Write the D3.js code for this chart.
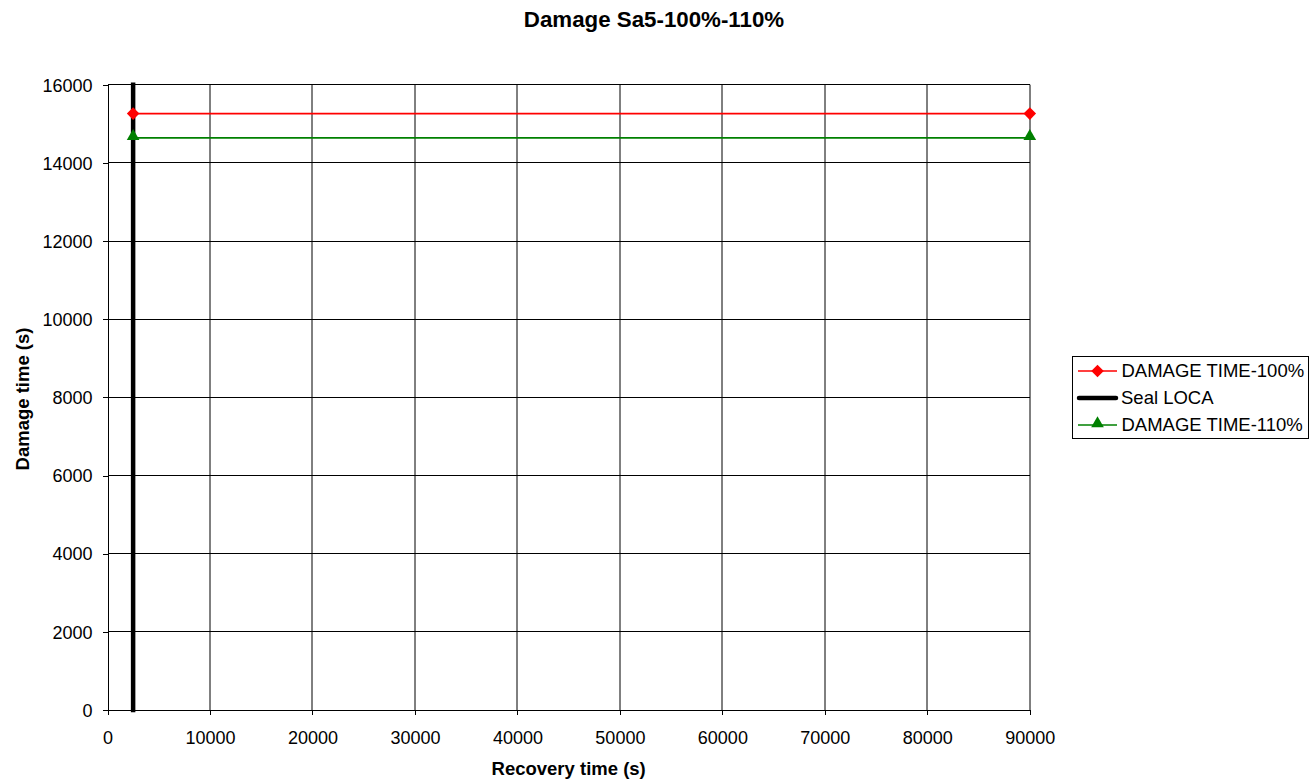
<!DOCTYPE html>
<html>
<head>
<meta charset="utf-8">
<script src="https://cdn.jsdelivr.net/npm/d3@7"></script>
<style>
  html, body { margin: 0; padding: 0; background: #fff; }
  svg { display: block; font-family: "Liberation Sans", Arial, sans-serif; }
</style>
</head>
<body>
<svg id="chart" width="1310" height="781"></svg>
<script>
// Recovery-time endpoints and the damage times for each power level
const recoveryTimes = [2500, 90000];
const damage100 = [15260, 15260];
const damage110 = [14640, 14640];
// Seal LOCA marker: vertical line at a fixed recovery time
const sealLocaX = [2500, 2500];
const sealLocaY = [0, 16000];

const xTicks = [0, 10000, 20000, 30000, 40000, 50000, 60000, 70000, 80000, 90000];
const yTicks = [0, 2000, 4000, 6000, 8000, 10000, 12000, 14000, 16000];

const svg = d3.select("#chart");
const m = { left: 107.5, right: 1029.8, top: 84.7, bottom: 710 };

const x = d3.scaleLinear().domain([0, 90000]).range([m.left, m.right]);
const y = d3.scaleLinear().domain([0, 16000]).range([m.bottom, m.top]);

// Gridlines: horizontal crisp black, vertical soft grey
svg.append("g").selectAll("line").data(yTicks.slice(1)).join("line")
  .attr("x1", m.left).attr("x2", m.right)
  .attr("y1", d => y(d)).attr("y2", d => y(d))
  .attr("stroke", "#000").attr("stroke-width", 1).attr("shape-rendering", "crispEdges");
svg.append("g").selectAll("line").data(xTicks.slice(1)).join("line")
  .attr("x1", d => Math.round(x(d))).attr("x2", d => Math.round(x(d)))
  .attr("y1", m.top).attr("y2", m.bottom)
  .attr("stroke", "#000").attr("stroke-width", 1);

// Axes
const xAxis = svg.append("g").attr("transform", `translate(0,${m.bottom})`)
  .call(d3.axisBottom(x).tickValues(xTicks).tickFormat(d3.format("d")).tickSizeOuter(0).tickSize(5).tickPadding(16));
const yAxis = svg.append("g").attr("transform", `translate(${m.left},0)`)
  .call(d3.axisLeft(y).tickValues(yTicks).tickFormat(d3.format("d")).tickSizeOuter(0).tickSize(5).tickPadding(10));
[xAxis, yAxis].forEach(a => {
  a.select(".domain").attr("stroke", "#000").attr("shape-rendering", "crispEdges");
  a.selectAll(".tick line").attr("stroke", "#000").attr("shape-rendering", "crispEdges");
  a.selectAll("text").attr("font-size", 18).attr("fill", "#000")
    .attr("font-family", "'Liberation Sans', Arial, sans-serif");
});
yAxis.selectAll("text").attr("dy", "0.35em");

const line = d3.line().x(d => x(d[0])).y(d => y(d[1]));

// Damage series
const series = [
  { name: "DAMAGE TIME-100%", color: "#ff0000", marker: "diamond", vals: damage100 },
  { name: "DAMAGE TIME-110%", color: "#008000", marker: "triangle", vals: damage110 }
];
const symbolFor = k => k === "diamond"
  ? d3.symbol().type(d3.symbolDiamond2).size(100)
  : d3.symbol().type(d3.symbolTriangle2).size(115);

series.forEach(s => {
  const pts = recoveryTimes.map((t, i) => [t, s.vals[i]]);
  svg.append("path").attr("d", line(pts)).attr("fill", "none")
    .attr("stroke", s.color).attr("stroke-width", 1.6);
});

// Seal LOCA line
svg.append("path").attr("d", line(sealLocaX.map((v, i) => [v, sealLocaY[i]])))
  .attr("fill", "none").attr("stroke", "#000").attr("stroke-width", 4.5)
  .attr("stroke-linecap", "square");

series.forEach(s => {
  const pts = recoveryTimes.map((t, i) => [t, s.vals[i]]);
  svg.append("g").selectAll("path").data(pts).join("path")
    .attr("transform", d => `translate(${x(d[0])},${y(d[1]) + (s.marker === "triangle" ? -1.5 : 0)})`)
    .attr("d", symbolFor(s.marker)()).attr("fill", s.color);
});

// Title and axis titles
svg.append("text").attr("x", 654).attr("y", 27).attr("text-anchor", "middle")
  .attr("font-size", 22.3).attr("font-weight", "bold").text("Damage Sa5-100%-110%");
svg.append("text").attr("x", (m.left + m.right) / 2).attr("y", 774.5).attr("text-anchor", "middle")
  .attr("font-size", 18.5).attr("font-weight", "bold").text("Recovery time (s)");
svg.append("text").attr("transform", `translate(29,399) rotate(-90)`)
  .attr("text-anchor", "middle").attr("font-size", 18.5).attr("font-weight", "bold").text("Damage time (s)");

// Legend
const lg = svg.append("g").attr("transform", "translate(1072,356)");
lg.append("rect").attr("x", 0.5).attr("y", 0.5).attr("width", 236).attr("height", 82)
  .attr("fill", "#fff").attr("stroke", "#000").attr("shape-rendering", "crispEdges");
const items = [
  { name: "DAMAGE TIME-100%", color: "#ff0000", marker: "diamond", w: 1.6 },
  { name: "Seal LOCA", color: "#000", marker: null, w: 4.5 },
  { name: "DAMAGE TIME-110%", color: "#008000", marker: "triangle", w: 1.6 }
];
items.forEach((it, i) => {
  const cy = 15 + i * 27;
  lg.append("line").attr("x1", it.marker ? 6 : 7).attr("x2", it.marker ? 45 : 44).attr("y1", cy).attr("y2", cy)
    .attr("stroke", it.color).attr("stroke-width", it.w)
    .attr("stroke-linecap", it.marker ? "butt" : "round");
  if (it.marker) {
    lg.append("path").attr("transform", `translate(25.5,${cy + (it.marker === "triangle" ? -1.5 : 0)})`)
      .attr("d", symbolFor(it.marker)()).attr("fill", it.color);
  }
  lg.append("text").attr("x", it.marker ? 49.5 : 49).attr("y", cy).attr("dy", "0.35em")
    .attr("font-size", 18.5).text(it.name);
});
</script>
</body>
</html>
